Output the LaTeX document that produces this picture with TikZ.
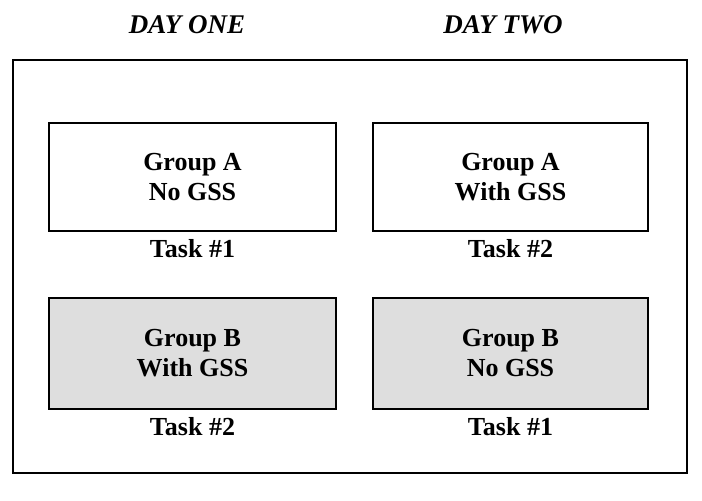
\documentclass[tikz,border=0pt]{standalone}
\usepackage{fontspec}
\setmainfont{Liberation Serif}
\usepackage{tikz}
\usetikzlibrary{positioning}

\tikzset{
 grpbox/.style={draw, line width=2pt, align=center, inner sep=0pt,
   minimum width=287pt},
 shaded/.style={grpbox, fill=black!13},
 daylbl/.style={font=\bfseries\itshape\fontsize{27}{30}\selectfont}
}

\begin{document}
\begin{tikzpicture}[x=1pt, y=-1pt, font=\bfseries\fontsize{26}{30}\selectfont]
 \useasboundingbox (0,0) rectangle (702,501);

 \node[daylbl] (d1) at (187,25) {DAY ONE};
 \node[daylbl] (d2) at (503,25) {DAY TWO};

 \draw[line width=2pt] (13,60) rectangle (687,473);

 % day one
 \node[grpbox, minimum height=108pt] (a1) at (192.5,177) {Group A\\No GSS};
 \node (t1) at (192.5,248.5) {Task \#1};
 \node[shaded, minimum height=111pt] (b1) at (192.5,353.5) {Group B\\With GSS};
 \node (t2) at (192.5,427) {Task \#2};

 % day two
 \node[grpbox, minimum width=275pt, minimum height=108pt] (a2) at (510.5,177) {Group A\\With GSS};
 \node (t3) at (510.5,248.5) {Task \#2};
 \node[shaded, minimum width=275pt, minimum height=111pt] (b2) at (510.5,353.5) {Group B\\No GSS};
 \node (t4) at (510.5,427) {Task \#1};

\end{tikzpicture}
\end{document}
